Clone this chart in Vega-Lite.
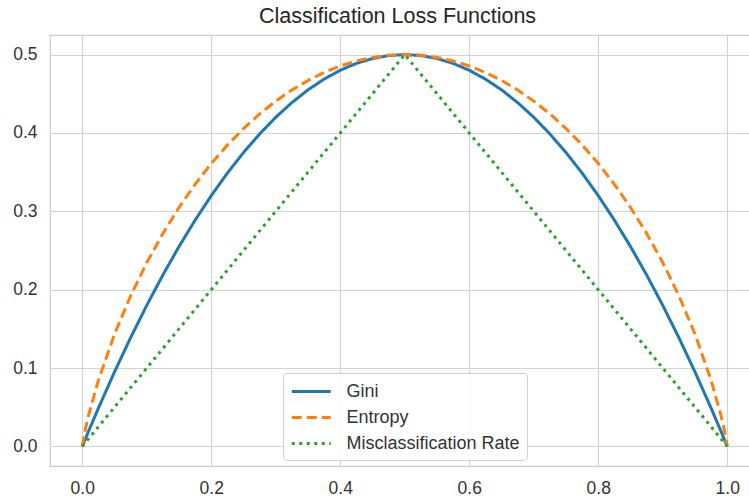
{
  "$schema": "https://vega.github.io/schema/vega-lite/v6.json",
  "autosize": "none",
  "padding": {"left": 50, "top": 35, "right": -2, "bottom": 32},
  "width": 701,
  "height": 431,
  "background": "white",
  "title": {"text": "Classification Loss Functions", "fontSize": 21.5, "font": "Liberation Sans", "fontWeight": "normal", "color": "#262626", "offset": 8, "anchor": "middle", "dx": -3},
  "config": {
    "view": {"stroke": "#cccccc", "strokeWidth": 1.2},
    "font": "Liberation Sans",
    "axis": {"grid": true, "domain": false, "gridColor": "#d3d3d3", "gridWidth": 1.2, "ticks": false, "labelFontSize": 17.5, "labelColor": "#333333", "labelFont": "Liberation Sans", "title": null}
  },
  "data": {"values": [
    {"p": 0, "Gini": 0, "Entropy": 0, "Misclassification Rate": 0},
    {"p": 0.005, "Gini": 0.00995, "Entropy": 0.0227, "Misclassification Rate": 0.005},
    {"p": 0.01, "Gini": 0.0198, "Entropy": 0.0404, "Misclassification Rate": 0.01},
    {"p": 0.025, "Gini": 0.04875, "Entropy": 0.0843, "Misclassification Rate": 0.025},
    {"p": 0.05, "Gini": 0.095, "Entropy": 0.1432, "Misclassification Rate": 0.05},
    {"p": 0.075, "Gini": 0.13875, "Entropy": 0.1922, "Misclassification Rate": 0.075},
    {"p": 0.1, "Gini": 0.18, "Entropy": 0.2345, "Misclassification Rate": 0.1},
    {"p": 0.125, "Gini": 0.21875, "Entropy": 0.2718, "Misclassification Rate": 0.125},
    {"p": 0.15, "Gini": 0.255, "Entropy": 0.3049, "Misclassification Rate": 0.15},
    {"p": 0.175, "Gini": 0.28875, "Entropy": 0.3345, "Misclassification Rate": 0.175},
    {"p": 0.2, "Gini": 0.32, "Entropy": 0.361, "Misclassification Rate": 0.2},
    {"p": 0.225, "Gini": 0.34875, "Entropy": 0.3846, "Misclassification Rate": 0.225},
    {"p": 0.25, "Gini": 0.375, "Entropy": 0.4056, "Misclassification Rate": 0.25},
    {"p": 0.275, "Gini": 0.39875, "Entropy": 0.4243, "Misclassification Rate": 0.275},
    {"p": 0.3, "Gini": 0.42, "Entropy": 0.4406, "Misclassification Rate": 0.3},
    {"p": 0.325, "Gini": 0.43875, "Entropy": 0.4549, "Misclassification Rate": 0.325},
    {"p": 0.35, "Gini": 0.455, "Entropy": 0.467, "Misclassification Rate": 0.35},
    {"p": 0.375, "Gini": 0.46875, "Entropy": 0.4772, "Misclassification Rate": 0.375},
    {"p": 0.4, "Gini": 0.48, "Entropy": 0.4855, "Misclassification Rate": 0.4},
    {"p": 0.425, "Gini": 0.48875, "Entropy": 0.4918, "Misclassification Rate": 0.425},
    {"p": 0.45, "Gini": 0.495, "Entropy": 0.4964, "Misclassification Rate": 0.45},
    {"p": 0.475, "Gini": 0.49875, "Entropy": 0.4991, "Misclassification Rate": 0.475},
    {"p": 0.5, "Gini": 0.5, "Entropy": 0.5, "Misclassification Rate": 0.5},
    {"p": 0.525, "Gini": 0.49875, "Entropy": 0.4991, "Misclassification Rate": 0.475},
    {"p": 0.55, "Gini": 0.495, "Entropy": 0.4964, "Misclassification Rate": 0.45},
    {"p": 0.575, "Gini": 0.48875, "Entropy": 0.4918, "Misclassification Rate": 0.425},
    {"p": 0.6, "Gini": 0.48, "Entropy": 0.4855, "Misclassification Rate": 0.4},
    {"p": 0.625, "Gini": 0.46875, "Entropy": 0.4772, "Misclassification Rate": 0.375},
    {"p": 0.65, "Gini": 0.455, "Entropy": 0.467, "Misclassification Rate": 0.35},
    {"p": 0.675, "Gini": 0.43875, "Entropy": 0.4549, "Misclassification Rate": 0.325},
    {"p": 0.7, "Gini": 0.42, "Entropy": 0.4406, "Misclassification Rate": 0.3},
    {"p": 0.725, "Gini": 0.39875, "Entropy": 0.4243, "Misclassification Rate": 0.275},
    {"p": 0.75, "Gini": 0.375, "Entropy": 0.4056, "Misclassification Rate": 0.25},
    {"p": 0.775, "Gini": 0.34875, "Entropy": 0.3846, "Misclassification Rate": 0.225},
    {"p": 0.8, "Gini": 0.32, "Entropy": 0.361, "Misclassification Rate": 0.2},
    {"p": 0.825, "Gini": 0.28875, "Entropy": 0.3345, "Misclassification Rate": 0.175},
    {"p": 0.85, "Gini": 0.255, "Entropy": 0.3049, "Misclassification Rate": 0.15},
    {"p": 0.875, "Gini": 0.21875, "Entropy": 0.2718, "Misclassification Rate": 0.125},
    {"p": 0.9, "Gini": 0.18, "Entropy": 0.2345, "Misclassification Rate": 0.1},
    {"p": 0.925, "Gini": 0.13875, "Entropy": 0.1922, "Misclassification Rate": 0.075},
    {"p": 0.95, "Gini": 0.095, "Entropy": 0.1432, "Misclassification Rate": 0.05},
    {"p": 0.975, "Gini": 0.04875, "Entropy": 0.0843, "Misclassification Rate": 0.025},
    {"p": 0.99, "Gini": 0.0198, "Entropy": 0.0404, "Misclassification Rate": 0.01},
    {"p": 0.995, "Gini": 0.00995, "Entropy": 0.0227, "Misclassification Rate": 0.005},
    {"p": 1, "Gini": 0, "Entropy": 0, "Misclassification Rate": 0}
  ]},
  "transform": [{"fold": ["Gini", "Entropy", "Misclassification Rate"], "as": ["loss", "value"]}],
  "mark": {"type": "line", "strokeWidth": 3, "clip": true},
  "encoding": {
    "x": {"field": "p", "type": "quantitative", "scale": {"domain": [-0.05, 1.0368], "nice": false, "zero": false},
          "axis": {"values": [0, 0.2, 0.4, 0.6, 0.8, 1.0], "format": ".1f", "labelPadding": 13, "grid": true}},
    "y": {"field": "value", "type": "quantitative", "scale": {"domain": [-0.025, 0.525], "nice": false, "zero": false},
          "axis": {"values": [0, 0.1, 0.2, 0.3, 0.4, 0.5], "format": ".1f", "labelPadding": 13, "grid": true}},
    "color": {"field": "loss", "type": "nominal",
      "scale": {"domain": ["Gini", "Entropy", "Misclassification Rate"], "range": ["#1f77b4", "#ff7f0e", "#2ca02c"]},
      "legend": {"title": null, "orient": "none", "legendX": 233, "legendY": 338, "symbolType": "M-1,0H3", "symbolSize": 380, "symbolStrokeWidth": 3, "labelFontSize": 18, "labelColor": "#333333", "labelFont": "Liberation Sans", "labelOffset": 33.5, "labelLimit": 400, "fillColor": "rgba(255,255,255,0.85)", "strokeColor": "#d0d0d0", "cornerRadius": 3, "padding": 7, "rowPadding": 5}},
    "strokeDash": {"field": "loss", "type": "nominal",
      "scale": {"domain": ["Gini", "Entropy", "Misclassification Rate"], "range": [[1, 0], [10, 5], [3, 4.5]]},
      "legend": null},
    "order": {"field": "p", "type": "quantitative"}
  }
}
